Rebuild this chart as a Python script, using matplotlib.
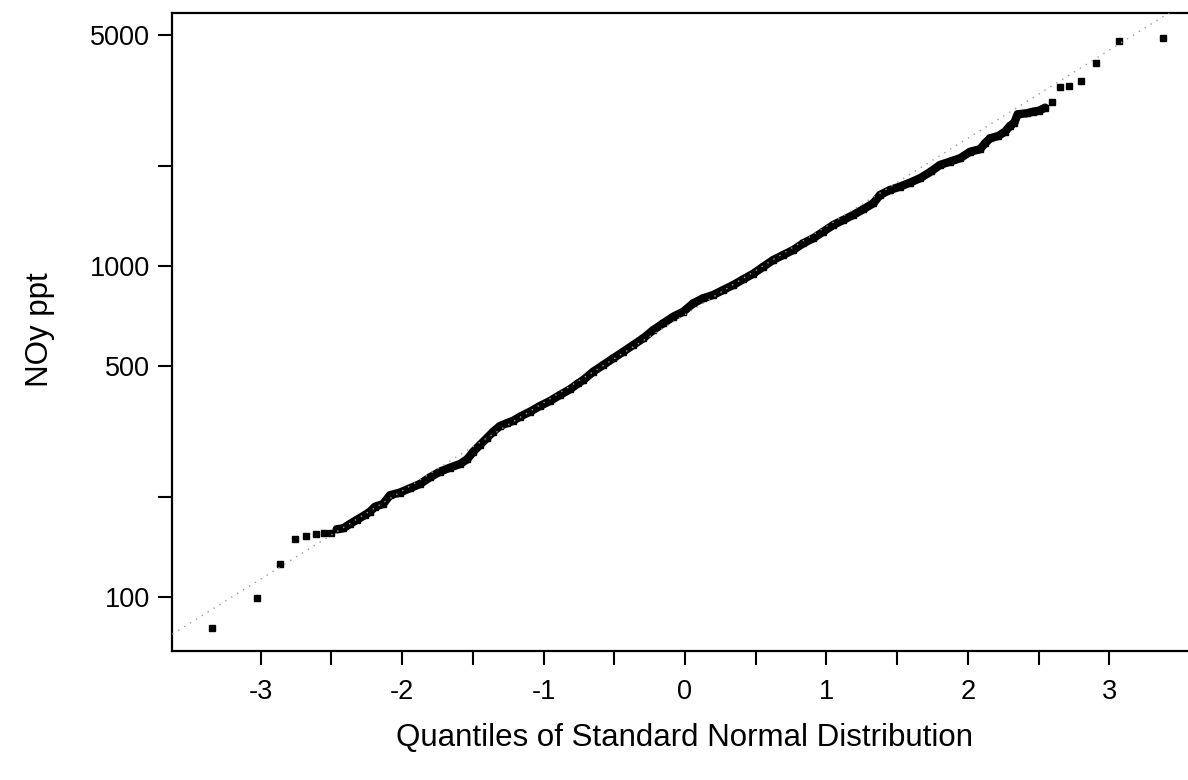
import numpy as np
import matplotlib.pyplot as plt
from matplotlib.ticker import FixedLocator, NullLocator

plt.rcParams["font.family"] = ["Liberation Sans", "DejaVu Sans"]

# normal quantiles and sorted NOy values (ppt)
quantiles = [
    -3.343, -3.025, -2.866, -2.760, -2.678, -2.612, -2.555, -2.506,
    -2.463, -2.416, -2.369, -2.322, -2.263, -2.228, -2.192, -2.134,
    -2.086, -2.016, -1.945, -1.874, -1.803, -1.733, -1.662, -1.591,
    -1.540, -1.497, -1.450, -1.402, -1.356, -1.308, -1.261, -1.214,
    -1.167, -1.096, -1.025, -0.955, -0.884, -0.813, -0.755, -0.719,
    -0.649, -0.578, -0.507, -0.436, -0.366, -0.295, -0.224, -0.153,
    -0.083, -0.012, 0.059, 0.129, 0.200, 0.271, 0.342, 0.412,
    0.483, 0.554, 0.624, 0.695, 0.766, 0.837, 0.907, 0.978,
    1.049, 1.120, 1.190, 1.261, 1.332, 1.379, 1.450, 1.520,
    1.591, 1.662, 1.740, 1.803, 1.874, 1.945, 2.016, 2.086,
    2.122, 2.157, 2.216, 2.263, 2.298, 2.329, 2.352, 2.416,
    2.463, 2.504, 2.546, 2.595, 2.652, 2.718, 2.798, 2.909,
    3.067, 3.377,
]
noy = [
    80.8, 99.1, 126.1, 149.7, 152.6, 155.3, 155.8, 156.5,
    160.2, 161.3, 166.2, 170.9, 176.9, 181.0, 187.4, 191.0,
    203.0, 206.8, 213.0, 219.5, 229.9, 239.1, 245.9, 252.2,
    260.6, 274.8, 287.9, 301.7, 315.8, 328.6, 334.8, 340.9,
    350.5, 362.9, 377.6, 390.9, 407.6, 424.1, 442.0, 452.4,
    479.4, 502.2, 526.2, 551.0, 577.2, 604.8, 640.6, 671.2,
    702.7, 727.6, 771.6, 798.9, 817.5, 846.4, 876.3, 911.5,
    948.0, 995.2, 1042.6, 1079.6, 1117.8, 1171.2, 1212.6, 1269.5,
    1330.1, 1377.2, 1426.0, 1483.6, 1546.8, 1638.8, 1696.8, 1736.3,
    1785.3, 1840.8, 1930.0, 2019.0, 2066.0, 2115.0, 2214.0, 2252.0,
    2348.0, 2431.0, 2470.0, 2545.0, 2648.0, 2710.0, 2872.0, 2892.0,
    2925.0, 2945.0, 3007.0, 3123.0, 3474.0, 3506.0, 3630.0, 4097.0,
    4795.0, 4895.0,
]

# reference line: value at z=0 and slope in decades per unit z
line_center = 713.0
line_slope = 0.2663

y_ticks = [100, 200, 500, 1000, 2000, 5000]
y_labels = ["100", "", "500", "1000", "", "5000"]
x_ticks = [-3, -2.5, -2, -1.5, -1, -0.5, 0, 0.5, 1, 1.5, 2, 2.5, 3]
x_labels = ["-3", "", "-2", "", "-1", "", "0", "", "1", "", "2", "", "3"]

q = np.array(quantiles)
v = np.array(noy)

fig = plt.figure(figsize=(11.88, 7.8), dpi=100)
ax = fig.add_axes([172 / 1188, 129 / 780, 1026 / 1188, 638 / 780])
ax.set_yscale("log")
ax.set_xlim(-3.627, 3.627)
ax.set_ylim(68.7, 5808)

# dense middle of the sample drawn as a thick band, tails as squares
body = (q >= -2.47) & (q <= 2.55)
ax.plot(q[body], v[body], color="black", lw=6.0, solid_joinstyle="round",
        solid_capstyle="round", zorder=2)
ax.plot(q, v, ls="none", marker="s", ms=4.5, color="black", zorder=2)

zl = np.array([-4.0, 4.0])
ax.plot(zl, line_center * 10 ** (line_slope * zl), color="#9a9a9a",
        lw=1.0, ls=(0, (1, 4)), zorder=3)

ax.yaxis.set_major_locator(FixedLocator(y_ticks))
ax.yaxis.set_minor_locator(NullLocator())
ax.set_yticklabels(y_labels)
ax.xaxis.set_major_locator(FixedLocator(x_ticks))
ax.set_xticklabels(x_labels)

for side in ["left", "bottom", "top", "right"]:
    ax.spines[side].set_linewidth(1.6)
ax.tick_params(axis="both", direction="out", length=10, width=1.5,
               labelsize=19.5, colors="black")
ax.tick_params(axis="x", pad=10)
ax.tick_params(axis="y", pad=6)

ax.set_xlabel("Quantiles of Standard Normal Distribution", fontsize=22.5,
              va="center")
ax.xaxis.set_label_coords(0.5, (651 - 738) / 638)
ax.set_ylabel("NOy ppt", fontsize=22.5, va="center")
ax.yaxis.set_label_coords((40 - 172) / 1026, 0.503)

fig.savefig("out.png", dpi=100)
